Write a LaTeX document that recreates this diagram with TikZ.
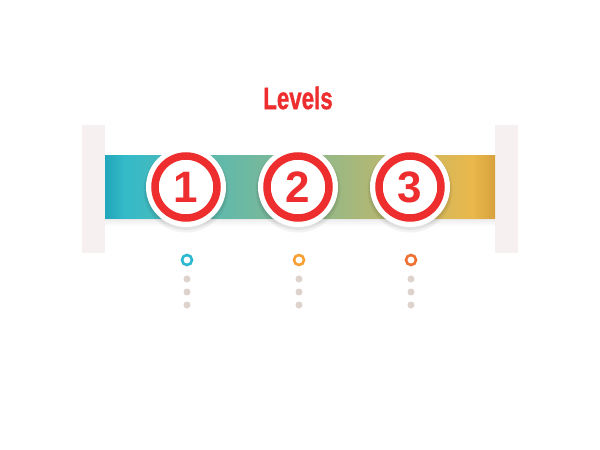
\documentclass[tikz,border=0pt]{standalone}
\usepackage{fontspec}
\setmainfont{Liberation Sans}
\newfontfamily\titlefont[FakeBold=1.2]{Liberation Sans Bold}
\usetikzlibrary{calc}
\definecolor{lvred}{HTML}{EE2E2E}
\definecolor{bracketc}{HTML}{F6F1F0}
\definecolor{tealA}{HTML}{22A6BB}
\definecolor{tealB}{HTML}{34BAC8}
\definecolor{midC}{HTML}{86B892}
\definecolor{goldB}{HTML}{EAB84C}
\definecolor{goldA}{HTML}{D7A13C}
\definecolor{mkteal}{HTML}{2BB8D0}
\definecolor{mkorange}{HTML}{F7A033}
\definecolor{mkred}{HTML}{EE7032}
\definecolor{dotc}{HTML}{DDD3CC}
\tikzset{
  bracket/.style={fill=bracketc, draw=none},
  badge/.style={circle, fill=white, draw=none, minimum size=80pt, inner sep=0pt},
  ring/.style={circle, draw=lvred, line width=7.5pt, fill=white, minimum size=62pt, inner sep=0pt,
    font=\fontsize{44}{44}\selectfont\bfseries, text=lvred},
  marker/.style={circle, draw=#1, line width=2.6pt, fill=white, minimum size=10pt, inner sep=0pt},
  dotm/.style={circle, fill=dotc, minimum size=7pt, inner sep=0pt},
}
\begin{document}
\begin{tikzpicture}[x=1pt,y=-1pt]
\useasboundingbox[fill=white] (0,0) rectangle (600,450);
% title
\node[text=lvred, font=\fontsize{31}{31}\titlefont] (title) at (298,98) {\scalebox{0.72}[1]{Levels}};
% brackets
\fill[bracket] (82,125) rectangle (105,253);
\fill[bracket] (495,125) rectangle (518,253);
% band shadow
\foreach \d/\o in {2/0.03, 4/0.025, 6/0.02, 8/0.015}{
  \fill[black, opacity=\o] (105,218) rectangle (495,218+\d);
}
% band
\shade[left color=tealA, right color=tealB, draw=none] (105,155) rectangle (125,218);
\shade[left color=tealB, right color=midC, draw=none] (124.5,155) rectangle (298,218);
\shade[left color=midC, right color=goldB, draw=none] (297.5,155) rectangle (472,218);
\shade[left color=goldB, right color=goldA, draw=none] (471.5,155) rectangle (495,218);
% badges
\foreach \n/\x in {1/186, 2/298, 3/410}{
  \fill[black, opacity=0.05] (\x,190) circle (42.5);
  \fill[black, opacity=0.06] (\x,189) circle (41);
  \node[badge] (b\n) at (\x,187) {};
  \node[ring] (r\n) at (\x,187) {\n};
}
% markers
\node[marker=mkteal] (m1) at (187,260) {};
\node[marker=mkorange] (m2) at (299,260) {};
\node[marker=mkred] (m3) at (411,260) {};
\foreach \i/\x in {1/187, 2/299, 3/411}{
  \node[dotm] (d\i a) at (\x,279) {};
  \node[dotm] (d\i b) at (\x,292) {};
  \node[dotm] (d\i c) at (\x,305) {};
}
\end{tikzpicture}
\end{document}
